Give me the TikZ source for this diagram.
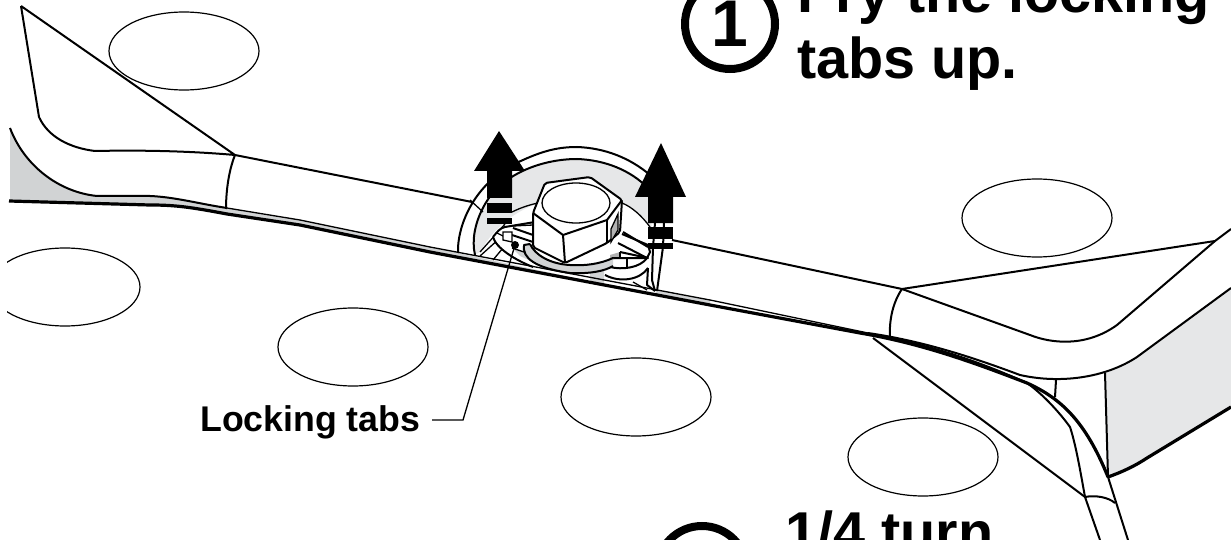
\documentclass[tikz,border=0pt]{standalone}
\usepackage{fontspec}
\setmainfont{Liberation Sans}
\definecolor{sheetgray}{HTML}{E6E7E8}
\definecolor{shadegray}{HTML}{D1D3D4}
\tikzset{
    outline/.style={line width=2pt, line join=round},
    heavy/.style={line width=3.2pt, line join=round},
    fine/.style={line width=1.3pt},
    hole/.style={draw, line width=1.2pt},
    steptext/.style={font=\bfseries\fontsize{57.6}{66}\selectfont, anchor=base west, inner sep=0pt, align=left},
    stepring/.style={draw, circle, line width=8pt, minimum size=90pt, inner sep=0pt, font=\bfseries\fontsize{66}{66}\selectfont},
    pullarrow/.style={fill=black, draw=none}
}
\begin{document}
\begin{tikzpicture}[x=1pt,y=-1pt]
    \useasboundingbox (0,0) rectangle (1231,540);
    \clip (0,0) rectangle (1231,540);
    % holes
    \begin{scope}
        \clip (7,0) rectangle (1231,540);
        \foreach \x/\y in {184/51,1037/218,65/287,353/347,636/397,923/457}
            \draw[hole] (\x,\y) ellipse (75 and 39);
    \end{scope}
    % shaded sides
    \fill[shadegray] (10,128) .. controls (24,165) and (58,192) .. (97,196) -- (150,196)
        .. controls (175,197) and (200,204) .. (227,208) -- (300,220) -- (430,247) -- (710,300) -- (710,305)
        -- (430,252) -- (300,225) -- (227,214) .. controls (190,207) and (175,205) .. (150,205) -- (10,201) -- cycle;
    \fill[sheetgray] (1105,373) .. controls (1118,369) and (1128,364) .. (1137,357) -- (1231,288)
        -- (1231,407) -- (1147,458) .. controls (1135,466) and (1122,472) .. (1108,477) -- cycle;
    % left part
    \draw[outline] (21,6) -- (39,117) .. controls (48,137) and (70,148) .. (95,151)
        .. controls (140,150) and (190,151) .. (235,155) -- (21,6);
    \draw[outline] (10,128) .. controls (24,165) and (58,192) .. (97,196) -- (150,196)
        .. controls (175,197) and (200,204) .. (227,208);
    \draw[outline] (235,155) .. controls (229,170) and (226,190) .. (226,209);
    \draw[outline] (235,155) -- (472,202);
    % right part
    \draw[outline] (672,240) -- (902,289) -- (1215,241) -- (1231,229);
    \draw[outline] (902,289) -- (1030,335) .. controls (1050,343) and (1085,348) .. (1117,325) -- (1215,241);
    \draw[outline] (902,289) .. controls (893,302) and (889,320) .. (890,337);
    \draw[outline] (868,333) .. controls (930,342) and (985,362) .. (1020,375)
        .. controls (1060,384) and (1105,378) .. (1137,357) -- (1231,288);
    \draw[outline] (860,333) .. controls (925,342) and (980,362) .. (1027,383)
        .. controls (1048,398) and (1065,420) .. (1070,427) .. controls (1076,445) and (1081,475) .. (1085,497) -- (1100,540);
    \draw[heavy] (860,333) .. controls (925,344) and (980,365) .. (1027,383)
        .. controls (1060,398) and (1085,420) .. (1108,477);
    \draw[outline] (1108,477) -- (1128,540);
    \draw[heavy] (1108,477) .. controls (1122,472) and (1135,466) .. (1147,458) -- (1231,407);
    \draw[outline] (1056,380) -- (1055,397);
    \draw[outline] (1105,373) -- (1108,477);
    \draw[outline] (873,338) -- (1085,497) .. controls (1095,495) and (1108,497) .. (1115,503);
    % hub
    \fill[white] (458,253) .. controls (455,205) and (500,160) .. (577,147) .. controls (605,148) and (630,158) .. (650,175)
        -- (665,250) -- (655,295) -- cycle;
    \draw[outline] (458,253) .. controls (457,225) and (475,180) .. (523,160) .. controls (545,150) and (560,147) .. (577,147)
        .. controls (605,148) and (630,158) .. (650,175);
    \fill[sheetgray] (475,255) .. controls (468,225) and (490,188) .. (510,178) .. controls (530,165) and (555,159) .. (577,159)
        .. controls (605,160) and (630,170) .. (648,188) -- (652,230) .. controls (640,212) and (630,205) .. (622,203)
        -- (543,202) .. controls (520,208) and (495,225) .. (480,252) -- cycle;
    \draw[outline] (475,255) .. controls (468,225) and (490,188) .. (510,178) .. controls (530,165) and (555,159) .. (577,159)
        .. controls (605,160) and (630,170) .. (648,188);
    \draw[fine] (622,203) .. controls (632,207) and (642,216) .. (650,227);
    \draw[fine] (480,252) -- (505,224);
    \draw[fine] (512,212) .. controls (522,207) and (532,204) .. (543,202);
    \draw[fine] (470,200) -- (483,212);
    \draw[fine] (480,256) -- (500,238);
    \draw[fine] (493,260) -- (503,248);
    % tabs, left side
    \fill[white] (493,237) .. controls (497,230) and (503,226) .. (505,227) -- (540,222) -- (545,267) -- (533,267)
        .. controls (520,262) and (500,252) .. (493,237) -- cycle;
    \fill[shadegray] (512,248) -- (527,253) -- (533,262) -- (520,256) -- cycle;
    \draw[outline] (493,237) .. controls (497,232) and (500,228) .. (505,227) -- (535,222);
    \draw[outline] (493,237) .. controls (496,248) and (515,260) .. (533,267);
    \draw[fine] (497,233) -- (503,236);
    \draw[outline] (512,235) -- (533,242);
    \draw[outline] (513,228) -- (533,235);
    \draw[fine] (513,226) -- (533,225);
    \draw[fine] (512,248) -- (527,253);
    \draw[fine, fill=white] (503,232) -- (512,232) -- (512,242) -- (503,240) -- cycle;
    \node[circle, fill=black, minimum size=8pt, inner sep=0pt] (tabdot) at (515,245) {};
    % tabs, right side
    \fill[white] (605,233) -- (650,250) -- (655,285) -- (632,285) -- (600,280) -- cycle;
    \fill[shadegray] (590,271) -- (604,271) -- (604,286) -- (590,283) -- cycle;
    \fill[gray!60] (610,255) -- (620,252) -- (620,258) -- (610,260) -- cycle;
    \draw[outline] (622,234) -- (648,245) -- (650,252) -- (647,258) -- (618,243);
    \draw[outline] (623,232) -- (648,247);
    \draw[outline] (620,252) -- (648,258) -- (612,258);
    \draw[fine] (620,252) -- (620,258);
    \draw[fine] (627,258) -- (627,267);
    \draw[outline] (610,267) .. controls (622,270) and (640,268) .. (647,258);
    \draw[outline] (605,275) .. controls (620,283) and (640,280) .. (648,268);
    \draw[outline] (648,268) -- (647,285) -- (655,291);
    \draw[fine] (633,282) -- (647,290);
    \draw[outline] (655,223) -- (653,247) -- (652,280) -- (655,291);
    \draw[outline] (664,223) -- (663,247) -- (657,291);
    % band edge below the hub
    \draw[fine] (227,208) -- (300,220) -- (430,247) -- (710,300) -- (868,333);
    \draw[heavy] (9,201) -- (150,205) .. controls (175,205) and (190,207) .. (227,214) -- (300,225) -- (430,252) -- (710,305) -- (860,333);
    % washer
    \fill[shadegray] (524,245) .. controls (522,258) and (535,268) .. (570,273) .. controls (590,274) and (605,271) .. (613,266)
        -- (613,258) .. controls (600,264) and (585,266) .. (570,265) .. controls (550,264) and (535,255) .. (530,244) -- cycle;
    \draw[outline] (530,244) -- (524,245) .. controls (522,258) and (535,268) .. (570,273) .. controls (590,274) and (605,271) .. (613,266);
    \draw[outline] (530,244) .. controls (535,255) and (550,264) .. (570,265) .. controls (585,266) and (600,264) .. (613,258);
    % nut
    \draw[outline, fill=white, rounded corners=2pt] (545,183) -- (590,177) -- (622,200) -- (620,232) -- (607,243) -- (565,263) -- (533,247) -- (533,213) -- cycle;
    \draw[fine] (576,203) ellipse (34 and 20);
    \draw[outline] (533,213) -- (563,235) -- (607,220) -- (622,200);
    \draw[outline] (563,235) -- (565,263);
    \draw[outline] (607,220) -- (607,243);
    \draw[fine, fill=gray!60] (611,229) -- (618,214) -- (618,230) -- (611,242) -- cycle;
    % arrows
    \path[pullarrow] (499,131) -- (525,171) -- (512,171) -- (512,198) -- (487,198) -- (487,171) -- (474,171) -- cycle;
    \path[pullarrow] (487,203) rectangle (512,213);
    \path[pullarrow] (487,218) rectangle (512,224);
    \path[pullarrow] (661,143) -- (686,197) -- (673,197) -- (673,223) -- (648,223) -- (648,197) -- (635,197) -- cycle;
    \path[pullarrow] (648,227) rectangle (673,239);
    \path[pullarrow] (648,243) rectangle (673,249);
    % texts
    \node[stepring] (ringone) at (730,24) {\raisebox{-2pt}{1}};
    \node[steptext] (titleone) at (797,79) {Pry the locking\\tabs up.};
    \node[stepring] (ringtwo) at (702,571) {};
    \node[steptext] (titletwo) at (785,552) {1/4 turn};
    \node[font=\bfseries\fontsize{35.7}{36}\selectfont, anchor=base west, inner sep=0pt] (tablabel) at (200,431) {Locking tabs};
    \coordinate (tabbend) at (463,420);
    \draw[fine] (432,420) -- (tabbend) -- (tabdot.center);
\end{tikzpicture}
\end{document}
